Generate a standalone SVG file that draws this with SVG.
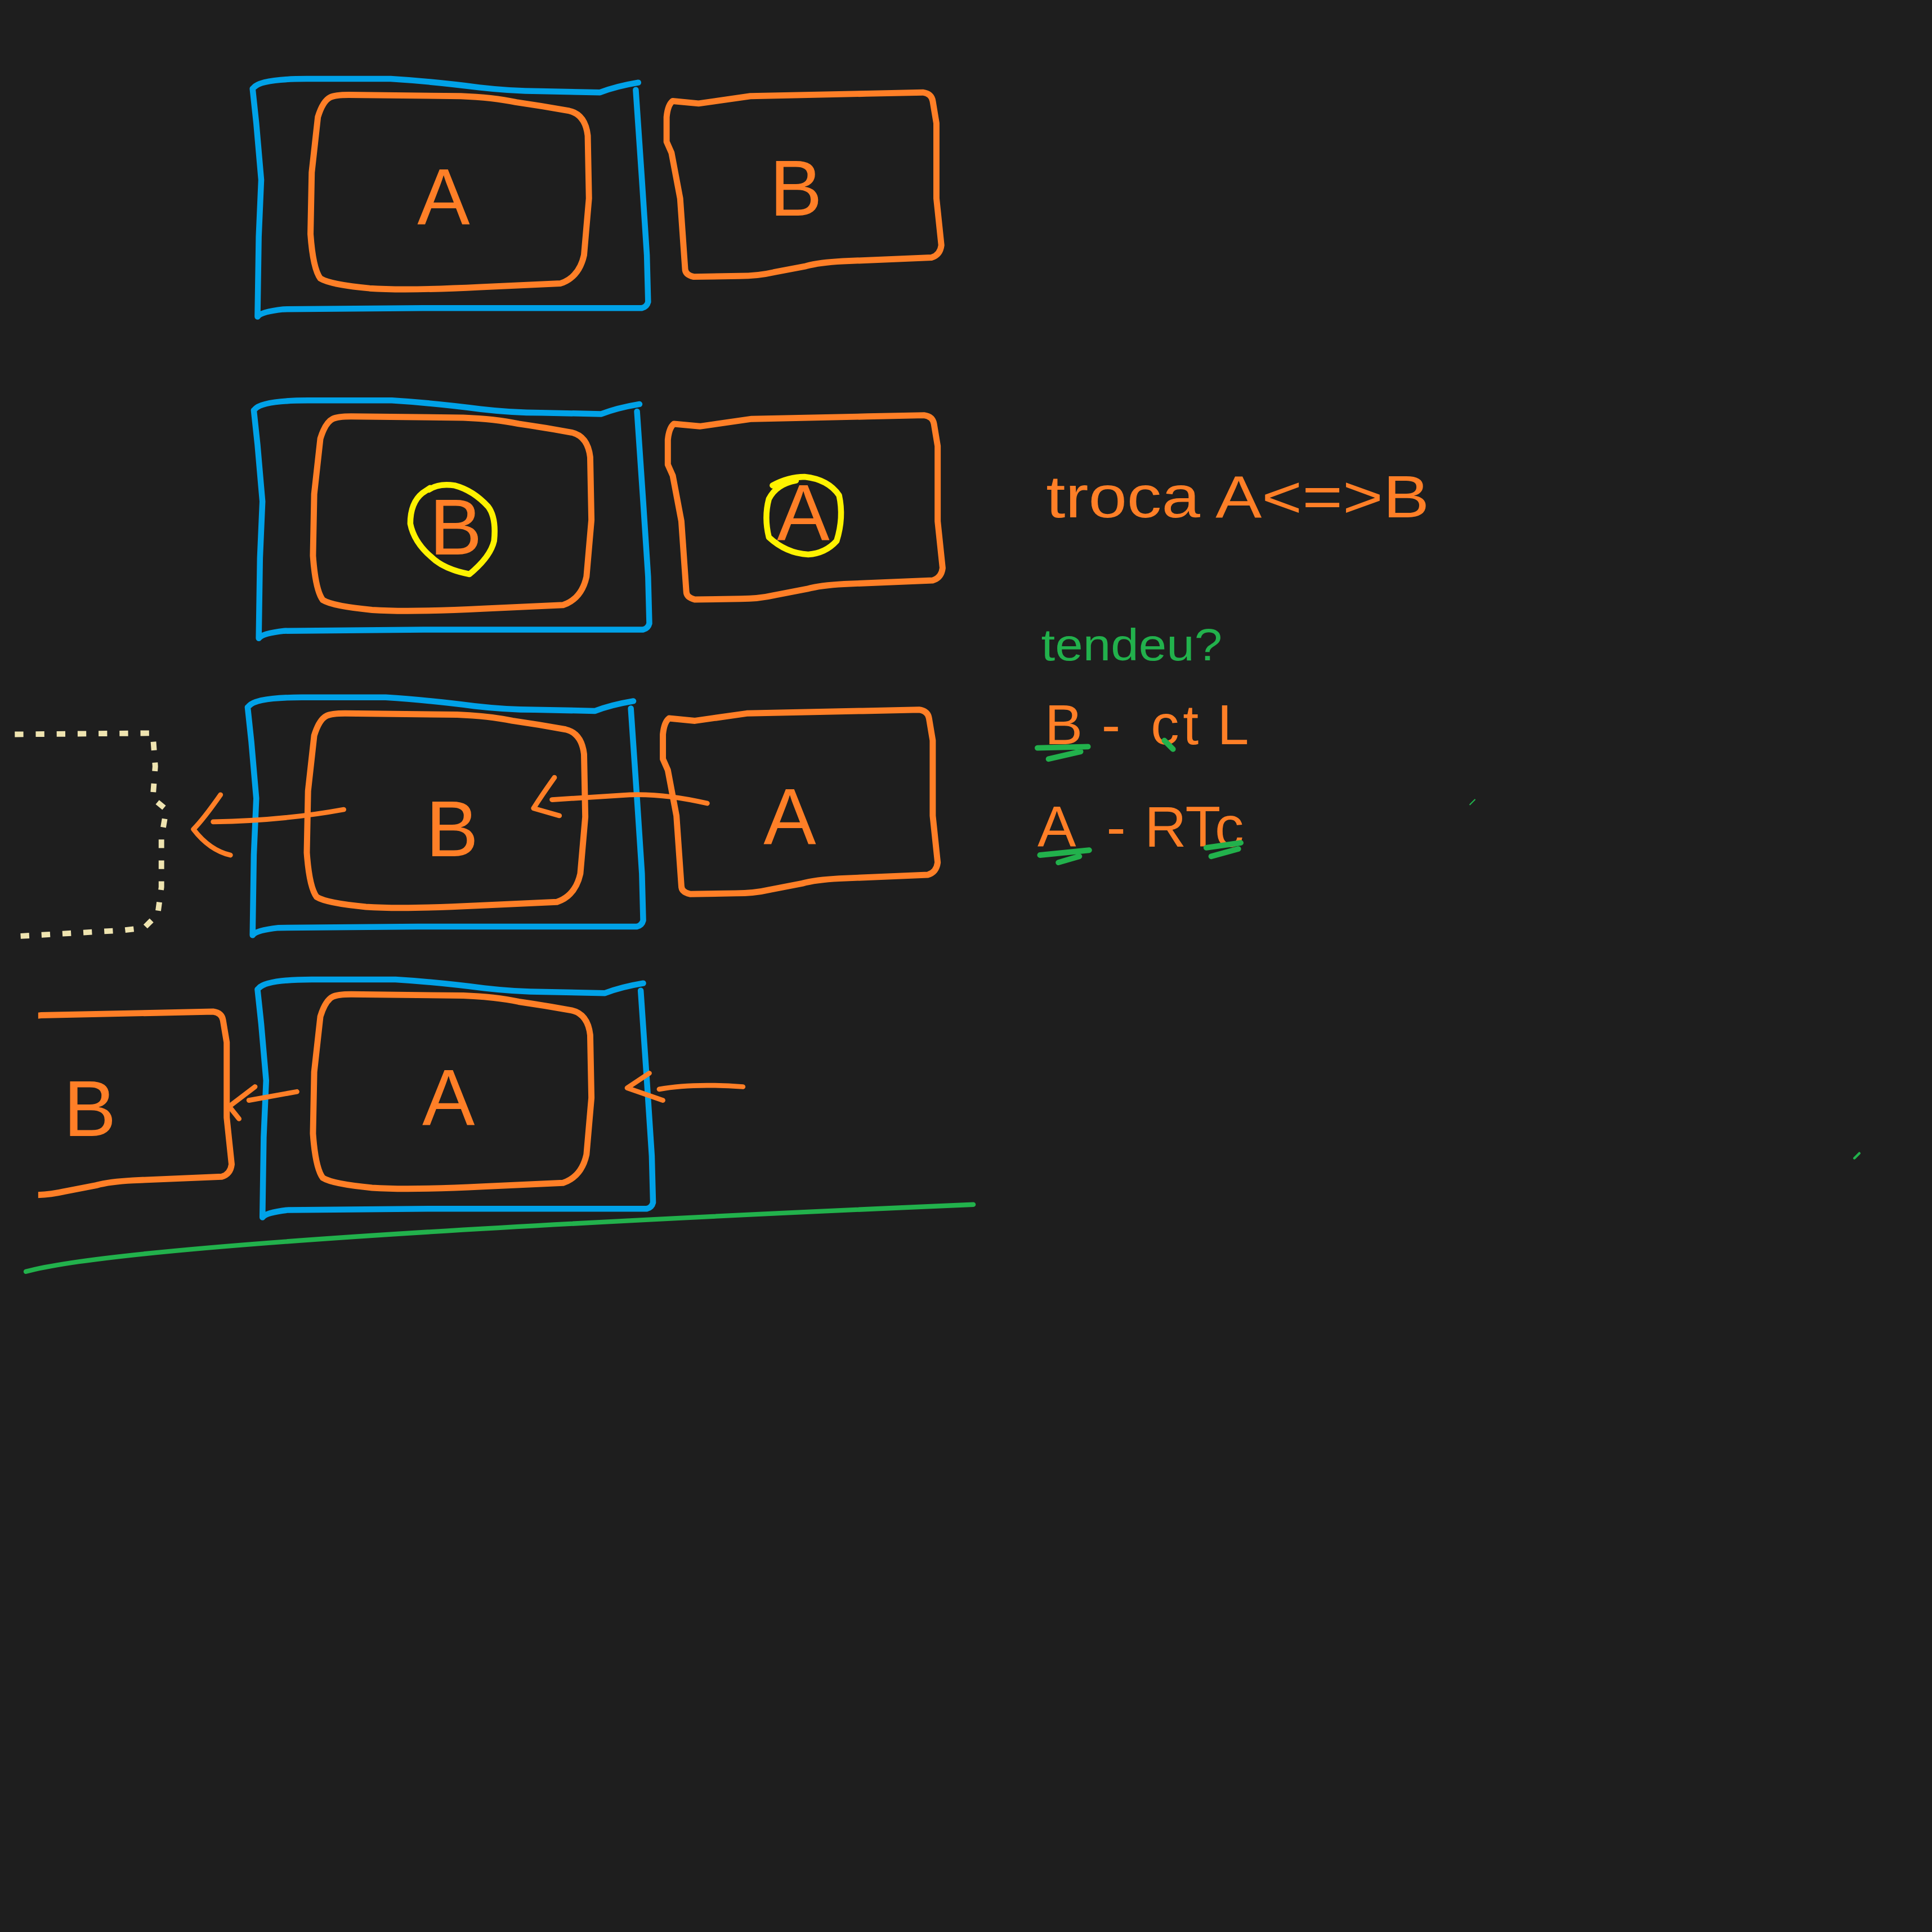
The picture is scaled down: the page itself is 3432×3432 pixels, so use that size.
<svg xmlns="http://www.w3.org/2000/svg" xmlns:xlink="http://www.w3.org/1999/xlink" width="3432" height="3432" viewBox="0 0 3432 3432">
<style>
.bl{fill:none;stroke:#00A2E8;stroke-width:4.8;stroke-linecap:round;stroke-linejoin:round}
.or{fill:none;stroke:#FF7F27;stroke-width:5;stroke-linecap:round;stroke-linejoin:round}
.ar{fill:none;stroke:#FF7F27;stroke-width:4;stroke-linecap:round;stroke-linejoin:round}
.ye{fill:none;stroke:#FFF200;stroke-width:4.8;stroke-linecap:round;stroke-linejoin:round}
.gr{fill:none;stroke:#22B14C;stroke-linecap:round;stroke-linejoin:round}
.cr{fill:none;stroke:#EFE4B0;stroke-width:4.5;stroke-dasharray:7 10;stroke-linejoin:round}
.lt{font-family:"Liberation Sans",Arial,sans-serif;fill:#FF7F27;font-size:64px;text-anchor:middle}
.tx{font-family:"Liberation Sans",Arial,sans-serif;fill:#FF7F27}
</style>
<defs>
<path id="blueBox" d="M206,71 Q212,64 249,64 L317,64 Q350,66 389,71 Q415,74 438,74 L487,75 Q500,70 518,67 M516,73 L521,146 L525,207 L526,245 Q525,249 521,250 L343,250 L230,251 Q212,253 209,257 L210,192 L212,146 L208,100 L205,72"/>
<path id="innerBox" d="M268,79 Q262,82 258,95 L253,140 L252,190 Q254,218 260,226 Q268,231 300,234 Q330,236 390,233 L455,230 Q470,225 474,207 L478,161 L477,110 Q475,93 462,90 Q440,86 419,83 Q400,79 374,78 L283,77 Q272,77 268,79 Z"/>
<path id="sideBox" d="M546,82 L567,84 L609,78 L703,76 L749,75 Q756,76 757,82 L760,100 L760,161 L764,199 Q763,207 756,209 L684,212 Q665,213 654,216 L628,221 Q615,224 600,224 L563,224.6 Q556,223 556,218 L552,161 L545,124 L541,115 L541,95 Q542,85 546,82 Z"/>
<clipPath id="clipLeft"><rect x="31" y="0" width="1600" height="1600"/></clipPath>
</defs>
<rect width="3432" height="3432" fill="#1e1e1e"/>
<g transform="scale(2.188776)">
<g id="row1-frame"><use xlink:href="#blueBox" class="bl"/></g>
<g id="row1-A"><use xlink:href="#innerBox" class="or"/><text class="lt" x="360" y="182">A</text></g>
<g id="row1-B"><use xlink:href="#sideBox" class="or"/><text class="lt" x="646" y="175">B</text></g>

<g id="row2-frame"><use xlink:href="#blueBox" class="bl" transform="translate(1,261)"/></g>
<g id="row2-B"><use xlink:href="#innerBox" class="or" transform="translate(2,261)"/><text class="lt" x="370" y="450">B</text>
<path class="ye" d="M348,397.5 Q356,392 369,394 Q384,398 396,411 Q403,420 401,439 Q398,452 381,466 Q360,462 350,452 Q336,440 333,425 Q333,408 343,400 L349,396"/></g>
<g id="row2-A"><use xlink:href="#sideBox" class="or" transform="translate(1,262)"/><text class="lt" x="652" y="438">A</text>
<path class="ye" d="M627,394 Q640,387 653,387 Q672,389 681,402 Q685,420 679,439 Q670,449 656,450 Q638,449 624,436 Q620,420 624,405 Q630,393 646,390"/></g>

<g id="row3-frame"><use xlink:href="#blueBox" class="bl" transform="translate(-4,502)"/></g>
<g id="row3-B"><use xlink:href="#innerBox" class="or" transform="translate(-3,502)"/><text class="lt" x="367" y="695">B</text></g>
<g id="row3-A"><use xlink:href="#sideBox" class="or" transform="translate(-3,501)"/><text class="lt" x="641" y="685">A</text></g>
<g id="row3-out"><path class="cr" d="M12,596 L124,595 L126,622 L124,648 L135,657 L131,680 L131,720 L128,742 L117,753 L100,755 L12,760"/></g>

<g id="row4-frame"><use xlink:href="#blueBox" class="bl" transform="translate(4,731)"/></g>
<g id="row4-A"><use xlink:href="#innerBox" class="or" transform="translate(2,730)"/><text class="lt" x="364" y="913">A</text></g>
<g id="row4-B" clip-path="url(#clipLeft)"><use xlink:href="#sideBox" class="or" transform="translate(-576,746)"/><text class="lt" x="73" y="922">B</text></g>

<g id="connectors">
<path class="ar" d="M279,657 Q230,666 173,667 M179,645 Q165,665 157,673 Q170,690 187,694"/>
<path class="ar" d="M574,652 Q540,644 511,645 L448,649 M450,631 Q440,645 433,656 L454,662"/>
<path class="ar" d="M241,886 L202,893 M207,882 L186,898 L194,908"/>
<path class="ar" d="M603,882 Q561,879 535,884 M527,871 L509,883 L538,893"/>
</g>

<g id="separator"><path class="gr" stroke-width="3.8" d="M21,1032 C100,1010 500,990 790,977.6"/></g>

<g id="notes">
<text class="tx" x="849" y="420" font-size="48" textLength="311" lengthAdjust="spacingAndGlyphs">troca A&lt;=&gt;B</text>
<text class="tx" x="845" y="536" font-size="36" textLength="147" lengthAdjust="spacingAndGlyphs" style="fill:#22B14C">tendeu?</text>
<text class="tx" x="848 880 894 916 934 960 988" y="604" font-size="46">B - ctL</text>
<text class="tx" x="842 876 898 919 929 962 986" y="687" font-size="47">A - RTc</text>
<path class="gr" stroke-width="4.5" d="M842,607 L883,606 M851,616 L877,610 M945,601 L952,608 M844,694 L884,690 M859,700 L876,695 M979,688 L1007,684 M983,695 L1005,689"/>
<path class="gr" stroke-width="1" d="M1193,653 L1197,649"/>
<path class="gr" stroke-width="2" d="M1505,940 L1509,936"/>
</g>
</g>
</svg>
